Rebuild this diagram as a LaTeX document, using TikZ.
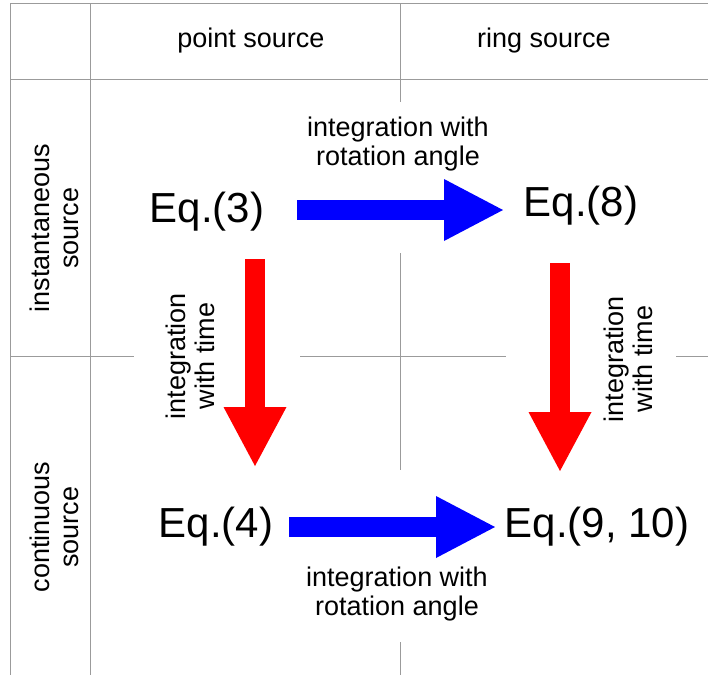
\documentclass[tikz,border=0pt]{standalone}
\usepackage{fontspec}
\setmainfont{Liberation Sans}
\usetikzlibrary{arrows.meta}

\definecolor{gridgray}{RGB}{155,155,155}
\definecolor{arrowblue}{RGB}{0,0,255}
\definecolor{arrowred}{RGB}{255,0,0}

\tikzset{
  gridline/.style={draw=gridgray, line width=1pt},
  head/.style={font=\fontsize{27}{30}\selectfont, inner sep=0pt},
  eq/.style={font=\fontsize{42}{48}\selectfont, inner sep=0pt},
  note/.style={font=\fontsize{27}{29}\selectfont, align=center, inner sep=0pt},
  side/.style={note, rotate=90},
  bluearrow/.style={draw=arrowblue, line width=20pt,
    -{Triangle[length=59pt, width=62pt, line width=0pt]}},
  redarrow/.style={draw=arrowred, line width=20pt,
    -{Triangle[length=59pt, width=63pt, line width=0pt]}},
}

\begin{document}
\begin{tikzpicture}[x=1pt, y=-1pt]
\useasboundingbox (0,0) rectangle (708,675);

% table lines
\draw[gridline] (10,3) -- (708,3);
\draw[gridline] (10,79) -- (708,79);
\draw[gridline] (10,3) -- (10,675);
\draw[gridline] (90,3) -- (90,675);
\draw[gridline] (400,3) -- (400,102);
\draw[gridline] (400,253) -- (400,470);
\draw[gridline] (400,642) -- (400,675);
\draw[gridline] (10,356) -- (134,356);
\draw[gridline] (300,356) -- (506,356);
\draw[gridline] (676,356) -- (708,356);

% headings
\node[head] (point) at (251,41) {point source};
\node[head] (ring) at (544,41) {ring source};
\node[side] (inst) at (54,228) {instantaneous\\source};
\node[side] (cont) at (54,527) {continuous\\source};

% equations
\node[eq] (eq3) at (207,212) {Eq.(3)};
\node[eq] (eq8) at (581,206) {Eq.(8)};
\node[eq] (eq4) at (216,527) {Eq.(4)};
\node[eq] (eq9) at (597,527) {Eq.(9, 10)};

% arrow ends
\coordinate (a3) at (297,210);
\coordinate (a8) at (503,210);
\coordinate (a4) at (289,527);
\coordinate (a9) at (495,527);
\coordinate (d3) at (255,259);
\coordinate (d4) at (255,466);
\coordinate (d8) at (560,263);
\coordinate (d9) at (560,471);

\draw[bluearrow] (a3) -- (a8);
\draw[bluearrow] (a4) -- (a9);
\draw[redarrow] (d3) -- (d4);
\draw[redarrow] (d8) -- (d9);

% arrow labels
\node[note] (rotA) at (398,144) {integration with\\rotation angle};
\node[note] (rotB) at (397,594) {integration with\\rotation angle};
\node[side] (timeA) at (190,356) {integration\\with time};
\node[side] (timeB) at (628,359) {integration\\with time};
\end{tikzpicture}
\end{document}
